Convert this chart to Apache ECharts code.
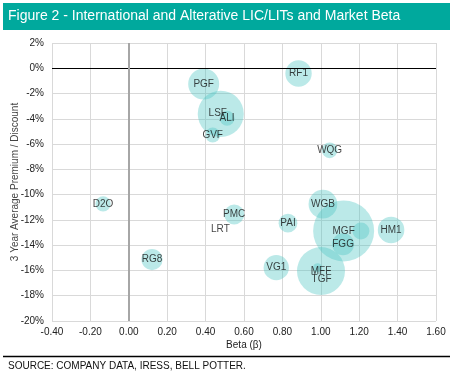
<!DOCTYPE html>
<html><head><meta charset="utf-8">
<script src="https://cdn.jsdelivr.net/npm/echarts@6/dist/echarts.min.js"></script>
<style>html,body{margin:0;padding:0;background:#fff}#c{width:453px;height:373px}</style>
</head><body><div id="c"></div>
<script>
const names = ['PGF','LSF','ALI','GVF','RF1','WQG','D2O','RG8','LRT','PMC','PAI','WGB','MGF','','FGG','HM1','VG1','MFF','TGF'];
const beta = [0.39,0.479,0.512,0.437,0.884,1.046,-0.134,0.121,0.477,0.549,0.829,1.011,1.119,1.209,1.116,1.366,0.768,1.001,0.983];
const premium = [-1.25,-3.61,-3.95,-5.28,-0.41,-6.49,-10.73,-15.14,-12.76,-11.57,-12.26,-10.75,-12.87,-12.87,-13.93,-12.79,-15.78,-16.05,-15.78];
const bubbleSize = [240,530,56,56,174,62,58,112,0,100,88,206,930,72,121,176,160,576,20];
const xTicks = [-0.4,-0.2,0,0.2,0.4,0.6,0.8,1.0,1.2,1.4,1.6];
const yTicks = [2,0,-2,-4,-6,-8,-10,-12,-14,-16,-18,-20];
const labelOffsets = {TGF:[4,12], LSF:[-3,-1]};

const data = names.map((n,i)=>({name:n, value:[beta[i], premium[i], bubbleSize[i]]}));

const chart = echarts.init(document.getElementById('c'));
const FONT = 'Liberation Sans, Arial, sans-serif';
chart.setOption({
  animation:false,
  textStyle:{fontFamily:FONT},
  grid:{left:52,right:17,top:43,bottom:52,containLabel:false,outerBoundsMode:'none'},
  xAxis:{type:'value',min:xTicks[0],max:xTicks[xTicks.length-1],interval:0.2,
    name:'Beta (β)',nameLocation:'middle',nameGap:19,nameMoveOverlap:false,
    nameTextStyle:{fontSize:10,color:'#222',fontFamily:FONT},
    axisLine:{show:false},axisTick:{show:false},
    axisLabel:{fontSize:10,color:'#222',margin:6,formatter:v=>v.toFixed(2)},
    splitLine:{show:true,lineStyle:{color:'#d9d9d9',width:1}}},
  yAxis:{type:'value',min:yTicks[yTicks.length-1],max:yTicks[0],interval:2,
    name:'3 Year Average Premium / Discount',nameLocation:'middle',nameGap:32,nameMoveOverlap:false,
    nameTextStyle:{fontSize:10,color:'#444',fontFamily:FONT},
    axisLine:{show:false},axisTick:{show:false},
    axisLabel:{fontSize:10,color:'#222',margin:8,formatter:v=>v+'%'},
    splitLine:{show:true,lineStyle:{color:'#d9d9d9',width:1}}},
  graphic:[
    {type:'rect',shape:{x:3,y:3,width:447,height:27},style:{fill:'#00a99d'},silent:true},
    {type:'text',x:8,y:16.5,style:{text:'Figure 2 - International and Alterative LIC/LITs and Market Beta',
      fill:'#fff',font:'14px '+FONT,textVerticalAlign:'middle'},silent:true},
    {type:'line',shape:{x1:3,y1:356.5,x2:450,y2:356.5},style:{stroke:'#000',lineWidth:1.5},silent:true},
    {type:'text',x:8,y:366,style:{text:'SOURCE: COMPANY DATA, IRESS, BELL POTTER.',
      fill:'#111',font:'10px '+FONT,textVerticalAlign:'middle'},silent:true}
  ],
  series:[{
    type:'scatter',
    data:data,
    symbolSize:v=>Math.max(2*Math.sqrt(v[2]),0.01),
    itemStyle:{color:'rgba(79,199,195,0.48)'},
    label:{show:true,position:'inside',formatter:p=>p.name,fontSize:10,color:'#111',fontFamily:FONT},
    labelLayout:function(p){
      const o = labelOffsets[names[p.dataIndex]];
      return o ? {dx:o[0],dy:o[1],hideOverlap:false} : {hideOverlap:false};
    },
    markLine:{silent:true,symbol:'none',label:{show:false},animation:false,
      data:[{yAxis:0,lineStyle:{color:'#000',width:1,type:'solid'}},
            {xAxis:0,lineStyle:{color:'#a6a6a6',width:2,type:'solid'}}]},
    z:3
  }]
});
</script></body></html>
